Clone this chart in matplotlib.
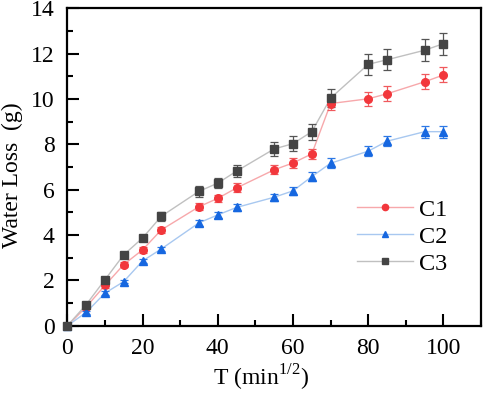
import matplotlib.pyplot as plt
from matplotlib.ticker import MultipleLocator

plt.rcParams['font.family'] = ['Liberation Serif', 'DejaVu Serif']
plt.rcParams['mathtext.fontset'] = 'custom'
plt.rcParams['mathtext.rm'] = 'Liberation Serif'

t = [0, 5, 10, 15, 20, 25, 35, 40, 45, 55, 60, 65, 70, 80, 85, 95, 100]

c1 = [0, 0.83, 1.78, 2.7, 3.35, 4.23, 5.25, 5.62, 6.08, 6.88, 7.18, 7.58, 9.8, 10.01, 10.23, 10.76, 11.06]
c1_err = [0.02, 0.08, 0.1, 0.1, 0.12, 0.12, 0.15, 0.17, 0.2, 0.2, 0.23, 0.23, 0.3, 0.32, 0.33, 0.34, 0.33]

c2 = [0, 0.59, 1.44, 1.95, 2.86, 3.39, 4.54, 4.89, 5.22, 5.67, 5.95, 6.58, 7.17, 7.7, 8.14, 8.56, 8.56]
c2_err = [0.02, 0.06, 0.08, 0.08, 0.1, 0.1, 0.12, 0.13, 0.15, 0.16, 0.18, 0.2, 0.22, 0.23, 0.23, 0.26, 0.26]

c3 = [0, 0.93, 2.03, 3.13, 3.87, 4.83, 5.93, 6.29, 6.82, 7.8, 8.03, 8.56, 10.04, 11.53, 11.73, 12.15, 12.44]
c3_err = [0.02, 0.08, 0.1, 0.12, 0.15, 0.2, 0.25, 0.23, 0.28, 0.31, 0.32, 0.35, 0.4, 0.46, 0.47, 0.48, 0.49]

fig = plt.figure(figsize=(4.84, 3.94), dpi=100)
ax = fig.add_axes([0.139, 0.173, 0.855, 0.806])

series = [
    ('C1', c1, c1_err, 'o', '#f2373c', '#f7a8ab', '#f0595d'),
    ('C2', c2, c2_err, '^', '#1667e0', '#a8c8f0', '#2d78e6'),
    ('C3', c3, c3_err, 's', '#444444', '#c0c0c0', '#555555'),
]
for name, y, e, m, mc, lc, ec in series:
    ax.plot(t, y, color=lc, lw=1, zorder=1)
    ax.errorbar(t, y, yerr=e, fmt='none', ecolor=ec, elinewidth=0.9,
                capsize=3, capthick=0.9, zorder=2)
    ax.plot(t, y, ls='none', marker=m, ms=5.5, color=mc, mec=mc, zorder=3, clip_on=False)
    ax.plot([], [], color=lc, lw=1, marker=m, ms=4.5, mfc=mc, mec=mc, label=name)

ax.set_xlim(0, 110)
ax.set_ylim(0, 14)
ax.xaxis.set_major_locator(MultipleLocator(20))
ax.xaxis.set_minor_locator(MultipleLocator(10))
ax.yaxis.set_major_locator(MultipleLocator(2))
ax.yaxis.set_minor_locator(MultipleLocator(1))
ax.set_xticks([0, 20, 40, 60, 80, 100])
ax.tick_params(which='major', direction='in', length=8.5, width=1.5, labelsize=17, pad=9)
ax.tick_params(which='minor', direction='in', length=4, width=1.5)
for s in ax.spines.values():
    s.set_linewidth(1.6)

ax.set_xlabel('T (min$^{1/2}$)', fontsize=17, va='center')
ax.xaxis.set_label_coords(0.469, -0.165)
ax.set_ylabel('Water Loss  (g)', fontsize=17, va='center')
ax.yaxis.set_label_coords(-0.133, 0.475)

ax.legend(loc='upper left', bbox_to_anchor=(0.70, 0.40), frameon=False,
          fontsize=17.5, handlelength=2.3, handletextpad=0.25, labelspacing=0.2,
          borderaxespad=0, borderpad=0)

fig.savefig('out.png', dpi=100)
